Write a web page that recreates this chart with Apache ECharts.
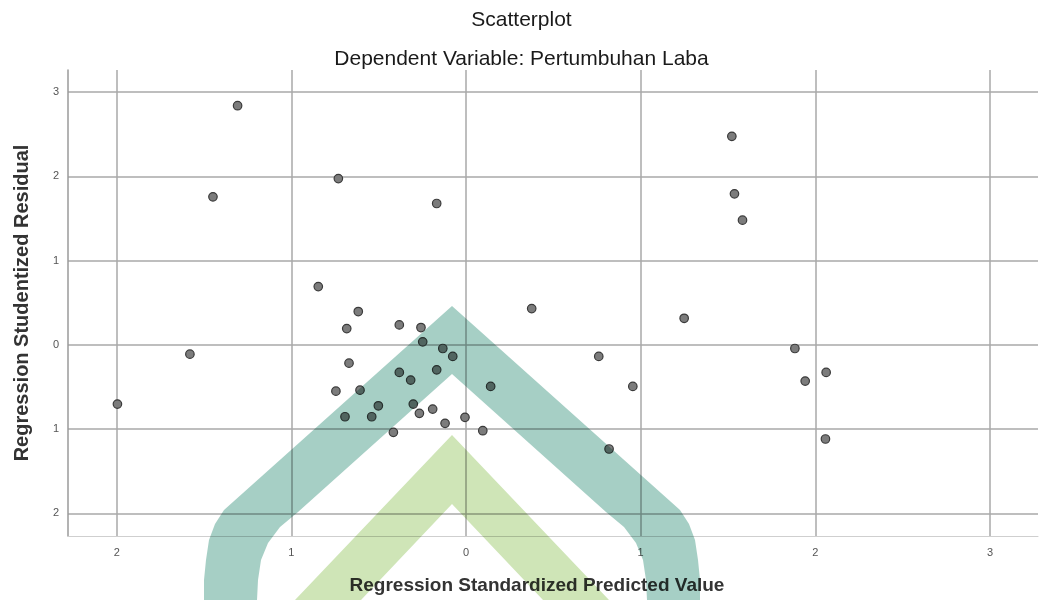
<!DOCTYPE html>
<html>
<head>
<meta charset="utf-8">
<script src="https://cdn.jsdelivr.net/npm/echarts@6/dist/echarts.min.js"></script>
<style>
html,body{margin:0;padding:0;background:#fff;}
#chart{width:1043px;height:600px;}
</style>
</head>
<body>
<div id="chart"></div>
<script>
// ---- data ----
const titleText = 'Scatterplot';
const subtitleText = 'Dependent Variable: Pertumbuhan Laba';
const xAxisName = 'Regression Standardized Predicted Value';
const yAxisName = 'Regression Studentized Residual';

const xTickValues = [-2, -1, 0, 1, 2, 3];
const xTickLabels = ['2', '1', '0', '1', '2', '3'];
const yTickValues = [-2, -1, 0, 1, 2, 3];
const yTickLabels = ['2', '1', '0', '1', '2', '3'];

const predictedValues = [
  -1.308, -1.449, -0.731, -0.168, 1.522, 1.537, 1.583, -0.846, -1.996, -1.581,
  -0.617, -0.683, -0.382, -0.258, 0.376, 1.249, -0.248, -0.133, -0.076, -0.670,
  -0.382, -0.168, -0.317, 0.141, -0.607, -0.745, -0.502, -0.302, -0.693, -0.540,
  -0.267, -0.191, -0.006, -0.120, 0.096, -0.416, 0.760, 0.955, 0.819, 1.883,
  1.942, 2.062, 2.058
];
const residualValues = [
  2.840, 1.758, 1.975, 1.679, 2.476, 1.794, 1.481, 0.692, -0.703, -0.110,
  0.396, 0.194, 0.237, 0.206, 0.431, 0.316, 0.036, -0.043, -0.137, -0.217,
  -0.327, -0.296, -0.418, -0.493, -0.537, -0.549, -0.723, -0.703, -0.853, -0.853,
  -0.813, -0.762, -0.860, -0.931, -1.019, -1.038, -0.137, -0.493, -1.236, -0.043,
  -0.430, -0.327, -1.117
];

const xRange = [-2.279, 3.275];
const yRange = [-2.269, 3.264];

// watermark outline (decoration)
const tealShape = [
  [452,306],[224,510],[215,524],[209,540],[206,560],[204,580],[204,600],
  [257,600],[258,580],[261,560],[268,543],[280,527],[298,512],[452,374],
  [606,512],[624,527],[636,543],[643,560],[646,580],[647,600],
  [700,600],[700,580],[698,560],[695,540],[689,524],[680,510]
];
const greenShape = [[452,435],[295,600],[361,600],[452,504],[543,600],[609,600]];

const points = predictedValues.map((x, i) => [x, residualValues[i]]);

function tickFormatter(values, labels) {
  return function (v) {
    for (let i = 0; i < values.length; i++) {
      if (Math.abs(values[i] - v) < 1e-6) return labels[i];
    }
    return '';
  };
}

const chart = echarts.init(document.getElementById('chart'), null, {renderer: 'canvas'});
const FONT = '"Liberation Sans", Arial, sans-serif';

chart.setOption({
  backgroundColor: '#ffffff',
  animation: false,
  title: [
    {text: titleText, left: 'center', top: 5,
     textStyle: {fontFamily: FONT, fontSize: 21, fontWeight: 'normal', color: '#1a1a1a'}},
    {text: subtitleText, left: 'center', top: 44,
     textStyle: {fontFamily: FONT, fontSize: 21, fontWeight: 'normal', color: '#1a1a1a'}}
  ],
  grid: {left: 68, right: 5, top: 70, bottom: 63, containLabel: false},
  xAxis: {
    type: 'value', min: xRange[0], max: xRange[1],
    name: xAxisName, nameLocation: 'middle', nameGap: 40,
    nameTextStyle: {fontFamily: FONT, fontSize: 19, fontWeight: 'bold', color: '#333', padding: [0, 32, 0, 0]},
    axisLine: {show: true, onZero: false, lineStyle: {color: '#cfcfcf', width: 1}},
    axisTick: {show: false},
    axisLabel: {show: true, showMinLabel: false, showMaxLabel: false, margin: 11,
      fontFamily: FONT, fontSize: 11, color: '#555',
      formatter: tickFormatter(xTickValues, xTickLabels)},
    splitLine: {show: true, showMinLine: false, showMaxLine: false,
      lineStyle: {color: '#a8a8a8', width: 1.5}}
  },
  yAxis: {
    type: 'value', min: yRange[0], max: yRange[1],
    name: yAxisName, nameLocation: 'middle', nameGap: 36,
    nameTextStyle: {fontFamily: FONT, fontSize: 20, fontWeight: 'bold', color: '#333'},
    axisLine: {show: true, onZero: false, lineStyle: {color: '#9a9a9a', width: 1.5}},
    axisTick: {show: false},
    axisLabel: {show: true, showMinLabel: false, showMaxLabel: false, margin: 9,
      fontFamily: FONT, fontSize: 11, color: '#555',
      formatter: tickFormatter(yTickValues, yTickLabels)},
    splitLine: {show: true, showMinLine: false, showMaxLine: false,
      lineStyle: {color: '#a8a8a8', width: 1.5}}
  },
  series: [{
    type: 'scatter',
    data: points,
    symbol: 'circle',
    symbolSize: 8.5,
    itemStyle: {color: '#7c7c7c', borderColor: '#3a3a3a', borderWidth: 1.2, opacity: 1}
  }],
  graphic: [
    {type: 'polygon', z: 100, silent: true,
     shape: {points: tealShape},
     style: {fill: '#a6cfc5', blend: 'multiply'}},
    {type: 'polygon', z: 100, silent: true,
     shape: {points: greenShape},
     style: {fill: '#cfe5b7', blend: 'multiply'}}
  ]
});
</script>
</body>
</html>
